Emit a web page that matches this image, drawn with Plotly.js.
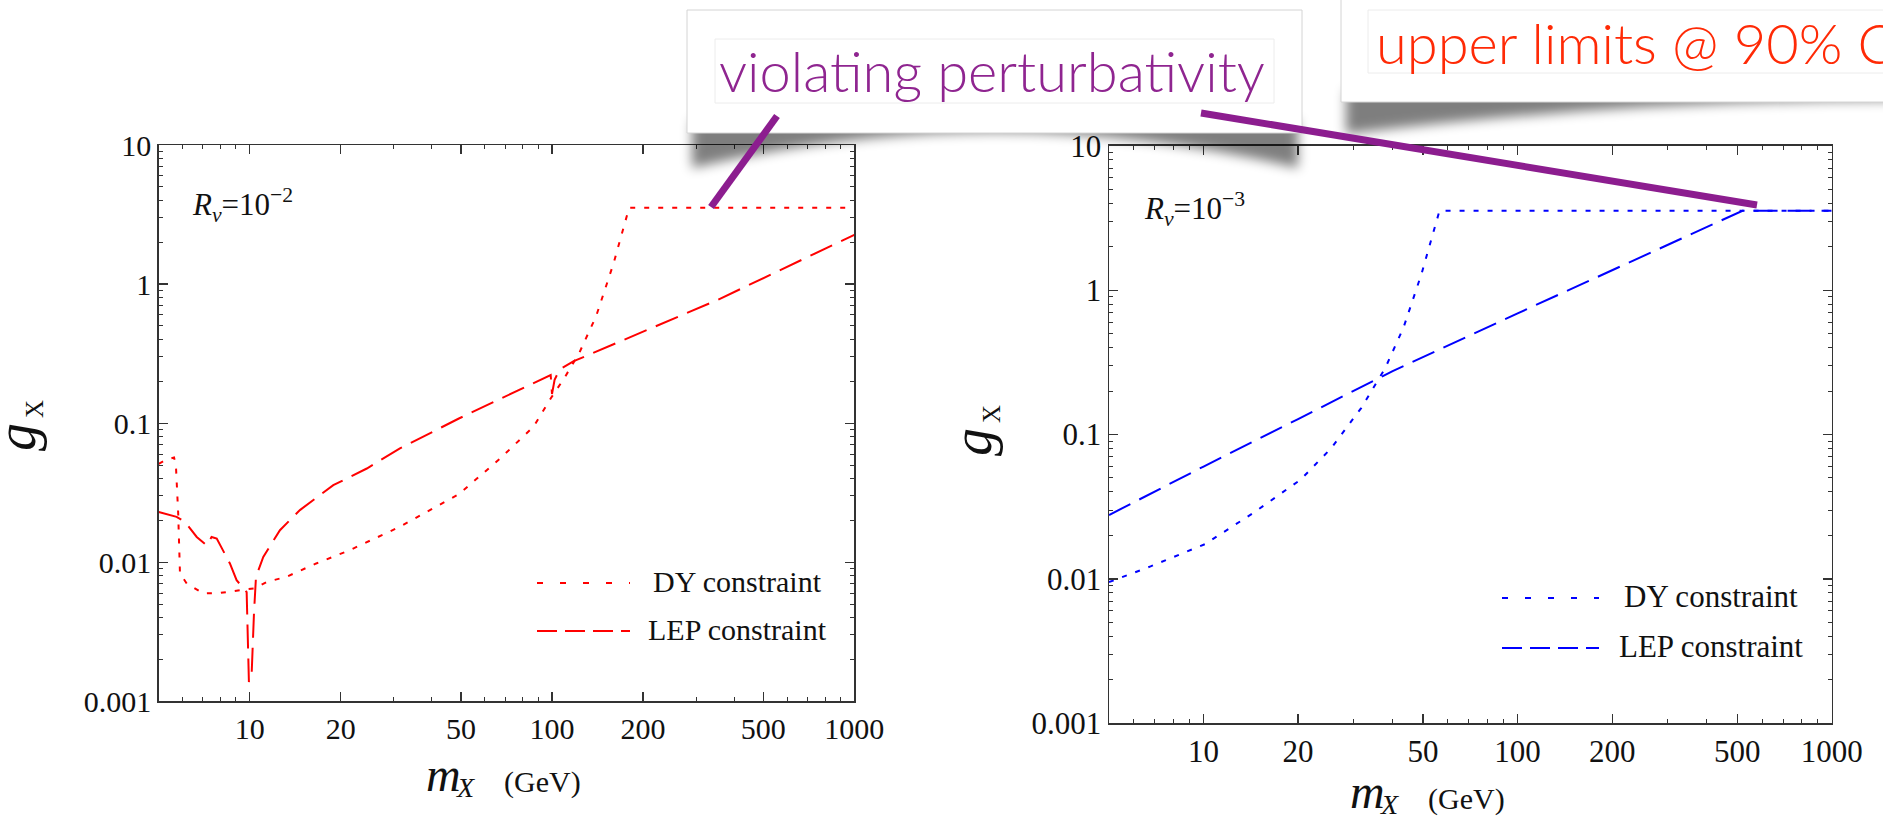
<!DOCTYPE html>
<html>
<head>
<meta charset="utf-8">
<script src="https://cdn.plot.ly/plotly-3.0.1.min.js"></script>
<style>
  html, body { margin: 0; padding: 0; background: #fff; }
  #chart { width: 1883px; height: 821px; }
</style>
</head>
<body>
<div id="chart"></div>
<script>
// ---- data: coupling limits g_X vs m_X (GeV) ----
// left panel, R_v = 1e-2
const dyLeftMass = [5.0, 5.31, 5.62, 5.70, 5.80, 5.88, 6.19, 7.02, 7.97, 9.05, 9.64, 10.4, 11.4, 13.2, 16.6, 21.4, 31.4, 49.2, 66.9, 86.9, 99.1, 110, 123, 140, 160, 180, 1000];
const dyLeftG = [0.051, 0.0548, 0.0566, 0.0499, 0.0224, 0.0083, 0.00703, 0.00596, 0.00601, 0.00629, 0.00637, 0.00648, 0.00722, 0.00784, 0.0098, 0.0122, 0.0180, 0.0309, 0.0549, 0.0944, 0.151, 0.212, 0.319, 0.589, 1.42, 3.545, 3.545];
const lepLeftMass = [5.0, 5.73, 6.11, 6.68, 7.21, 7.48, 7.78, 8.60, 9.05, 9.77, 9.94, 10.15, 10.33, 10.49, 11.09, 12.59, 14.66, 18.9, 24.4, 31.4, 49.2, 99.0, 100.0, 102, 106, 118, 352, 1000];
const lepLeftG = [0.0230, 0.0212, 0.0195, 0.0152, 0.0132, 0.0152, 0.0148, 0.0098, 0.00743, 0.0061, 0.00138, 0.00158, 0.00427, 0.00784, 0.0109, 0.0170, 0.0237, 0.0358, 0.0472, 0.0658, 0.108, 0.222, 0.162, 0.205, 0.243, 0.279, 0.767, 2.26];
// right panel, R_v = 1e-3
const dyRightMass = [5.0, 6.78, 10.1, 14.4, 20.4, 25.5, 31.8, 37.9, 43.3, 49.4, 56.4, 1000];
const dyRightG = [0.0095, 0.0122, 0.0174, 0.0286, 0.0488, 0.0804, 0.153, 0.289, 0.549, 1.29, 3.545, 3.545];
const lepRightMass = [5.0, 10, 20, 40, 100, 200, 500, 520, 1000];
const lepRightG = [0.0277, 0.060, 0.128, 0.275, 0.69, 1.38, 3.45, 3.545, 3.545];

// axis ticks
const xTickVals = [10, 20, 50, 100, 200, 500, 1000];
const xTickText = ['10', '20', '50', '100', '200', '500', '1000'];
const xMinorVals = [6, 7, 8, 9, 30, 40, 60, 70, 80, 90, 300, 400, 600, 700, 800, 900];
const yTickVals = [0.001, 0.01, 0.1, 1, 10];
const yTickText = ['0.001', '0.01', '0.1', '1', '10'];
const yMinorVals = [];
[0.001, 0.01, 0.1, 1].forEach(d => { for (let k = 2; k <= 9; k++) yMinorVals.push(+(d * k).toPrecision(3)); });

const legendNames = ['DY constraint', 'LEP constraint'];

// ---- page geometry helpers (pixels -> paper fractions) ----
const W = 1883, H = 821;
const PX = x => x / W;
const PY = y => 1 - y / H;

const SERIF = 'Liberation Serif, Times New Roman, serif';
const SANS = 'Lato, Open Sans, sans-serif';
const RED = '#ff0000', BLUE = '#0000ff';
const PURPLE_LINE = '#8c1d8f', PURPLE_TEXT = '#8f2590', ORANGE_RED = '#ff2a06';
const DOT = '5px,9px', DASH = '24px,10px';
const LEG_DOT = '6px,17px', LEG_DASH = '20px,8px';

const minorStyle = { ticks: 'inside', ticklen: 4, tickwidth: 1, tickcolor: '#333', showgrid: false };

function logAxis(extra, fontSize, minorVals) {
  return Object.assign({
    type: 'log',
    showgrid: false, zeroline: false,
    showline: true, linecolor: '#333', linewidth: 1.5,
    mirror: 'allticks',
    ticks: 'inside', ticklen: 9, tickwidth: 1.2, tickcolor: '#333',
    tickfont: { family: SERIF, size: fontSize, color: '#111' },
    tickmode: 'array',
    minor: Object.assign({ tickvals: minorVals }, minorStyle)
  }, extra);
}

const xCommon = { range: [Math.log10(5), 3], tickvals: xTickVals, ticktext: xTickText };
const yCommon = { range: [-3, 1], tickvals: yTickVals, ticktext: yTickText };

const layout = {
  width: W, height: H,
  margin: { l: 0, r: 0, t: 0, b: 0 },
  paper_bgcolor: '#fff', plot_bgcolor: '#fff',
  showlegend: false,
  xaxis: logAxis(Object.assign({ domain: [PX(158.7), PX(854.3)], anchor: 'y' }, xCommon), 30, xMinorVals),
  yaxis: logAxis(Object.assign({ domain: [PY(701.3), PY(145)], anchor: 'x' }, yCommon), 30, yMinorVals),
  xaxis2: logAxis(Object.assign({ domain: [PX(1109), PX(1831.7)], anchor: 'y2' }, xCommon), 31, xMinorVals),
  yaxis2: logAxis(Object.assign({ domain: [PY(723.3), PY(145.7)], anchor: 'x2' }, yCommon), 31, yMinorVals),
  shapes: [],
  annotations: []
};

// ---- traces ----
const traces = [
  { x: dyLeftMass, y: dyLeftG, xaxis: 'x', yaxis: 'y', mode: 'lines', name: legendNames[0],
    line: { color: RED, width: 2, dash: DOT } },
  { x: lepLeftMass, y: lepLeftG, xaxis: 'x', yaxis: 'y', mode: 'lines', name: legendNames[1],
    line: { color: RED, width: 2, dash: DASH } },
  { x: dyRightMass, y: dyRightG, xaxis: 'x2', yaxis: 'y2', mode: 'lines', name: legendNames[0],
    line: { color: BLUE, width: 2, dash: DOT } },
  { x: lepRightMass, y: lepRightG, xaxis: 'x2', yaxis: 'y2', mode: 'lines', name: legendNames[1],
    line: { color: BLUE, width: 2, dash: DASH } }
];

const S = layout.shapes, A = layout.annotations;

function ann(x, y, text, size, opts) {
  A.push(Object.assign({
    xref: 'paper', yref: 'paper', x: PX(x), y: PY(y), text: text, showarrow: false,
    xanchor: 'left', yanchor: 'middle',
    font: { family: SERIF, size: size, color: '#111' }
  }, opts || {}));
}

// ---- in-panel legends ----
function legendBlock(x0, x1, textX, yDY, yLEP, color, fs) {
  S.push({ type: 'line', xref: 'paper', yref: 'paper', x0: PX(x0), x1: PX(x1), y0: PY(yDY), y1: PY(yDY),
           line: { color: color, width: 2, dash: LEG_DOT } });
  S.push({ type: 'line', xref: 'paper', yref: 'paper', x0: PX(x0), x1: PX(x1), y0: PY(yLEP), y1: PY(yLEP),
           line: { color: color, width: 2, dash: LEG_DASH } });
  ann(textX, yDY - 2, legendNames[0], fs);
  ann(textX - 5, yLEP - 2, legendNames[1], fs);
}
legendBlock(537, 630, 651, 583, 631, RED, 30);
legendBlock(1502, 1599, 1622, 598, 648, BLUE, 31);

// ---- R_v labels ----
ann(190, 205, '<i>R</i><sub><i>ν</i></sub>=10<sup>−2</sup>', 31);
ann(1142, 209, '<i>R</i><sub><i>ν</i></sub>=10<sup>−3</sup>', 31);

// ---- axis titles ----
function xTitle(x, yBase) {
  ann(x, yBase - 16, '<i>m</i>', 48);
  ann(x + 30, yBase - 3, '<i>X</i>', 28);
  ann(x + 78, yBase - 8, '(GeV)', 30);
}
xTitle(424, 790);
xTitle(1348, 807);

function yTitle(xc, yc) {
  ann(xc, yc, '<i>g</i>', 56, { xanchor: 'center', textangle: -90 });
  ann(xc + 19, yc - 28, 'X', 25, { xanchor: 'center', textangle: -90 });
}
yTitle(16, 437);
yTitle(972, 442);

// ---- callout cards with curved drop shadows ----
function pth(pts) {
  // pts: commands with pixel coordinates -> paper-space SVG path
  return pts.map(p => p[0] + p.slice(1).map((v, i) => (i % 2 === 0 ? PX(v) : PY(v)).toFixed(5)).join(',')).join(' ');
}
const shadowIdx = [];
function curvedShadow(xl, xr, yTop, yEnd, yCtrl) {
  shadowIdx.push(S.length);
  S.push({
    type: 'path', xref: 'paper', yref: 'paper', layer: 'above',
    path: pth([['M', xl, yTop], ['L', xr, yTop], ['L', xr, yEnd],
               ['Q', (xl + xr) / 2, yCtrl, xl, yEnd]]) + ' Z',
    fillcolor: '#000', opacity: 0.5, line: { width: 0 }
  });
}
curvedShadow(692, 1298, 120, 168, 96);
curvedShadow(1346, 2450, 90, 134, 66);

function card(x0, y0, x1, y1, ix0, iy0, ix1, iy1) {
  S.push({ type: 'rect', xref: 'paper', yref: 'paper', layer: 'above',
           x0: PX(x0), x1: PX(x1), y0: PY(y0), y1: PY(y1),
           fillcolor: '#fff', line: { color: '#d4d4d4', width: 1 } });
  S.push({ type: 'rect', xref: 'paper', yref: 'paper', layer: 'above',
           x0: PX(ix0), x1: PX(ix1), y0: PY(iy0), y1: PY(iy1),
           fillcolor: 'rgba(0,0,0,0)', line: { color: '#ececec', width: 1 } });
}
card(687, 10, 1302, 133, 715, 39, 1274, 103);
card(1341, -20, 2450, 102, 1368, 10, 2450, 73);

ann(992, 70, 'violating perturbativity', 56,
    { xanchor: 'center', font: { family: SANS, size: 56, color: PURPLE_TEXT, weight: 300 } });
ann(1374, 43, 'upper limits @ 90% CL', 56,
    { font: { family: SANS, size: 56, color: ORANGE_RED, weight: 300 } });

// pointer lines from the perturbativity callout to the plateaus
S.push({ type: 'line', xref: 'paper', yref: 'paper', layer: 'above',
         x0: PX(777), y0: PY(116), x1: PX(711), y1: PY(207),
         line: { color: PURPLE_LINE, width: 7 } });
S.push({ type: 'line', xref: 'paper', yref: 'paper', layer: 'above',
         x0: PX(1201), y0: PY(113), x1: PX(1757), y1: PY(205),
         line: { color: PURPLE_LINE, width: 7 } });

Plotly.newPlot('chart', traces, layout, { displayModeBar: false, staticPlot: true }).then(gd => {
  // soften the card shadows with a gaussian blur filter
  const svg = gd.querySelector('svg.main-svg');
  const ns = 'http://www.w3.org/2000/svg';
  let defs = svg.querySelector('defs');
  if (!defs) { defs = document.createElementNS(ns, 'defs'); svg.insertBefore(defs, svg.firstChild); }
  const f = document.createElementNS(ns, 'filter');
  f.setAttribute('id', 'cardShadowBlur');
  f.setAttribute('x', '-20%'); f.setAttribute('y', '-80%');
  f.setAttribute('width', '140%'); f.setAttribute('height', '260%');
  const blur = document.createElementNS(ns, 'feGaussianBlur');
  blur.setAttribute('stdDeviation', '6');
  f.appendChild(blur);
  defs.appendChild(f);
  shadowIdx.forEach(i => {
    gd.querySelectorAll('.shapelayer path[data-index="' + i + '"]').forEach(p => {
      p.setAttribute('filter', 'url(#cardShadowBlur)');
    });
  });
});
</script>
</body>
</html>
